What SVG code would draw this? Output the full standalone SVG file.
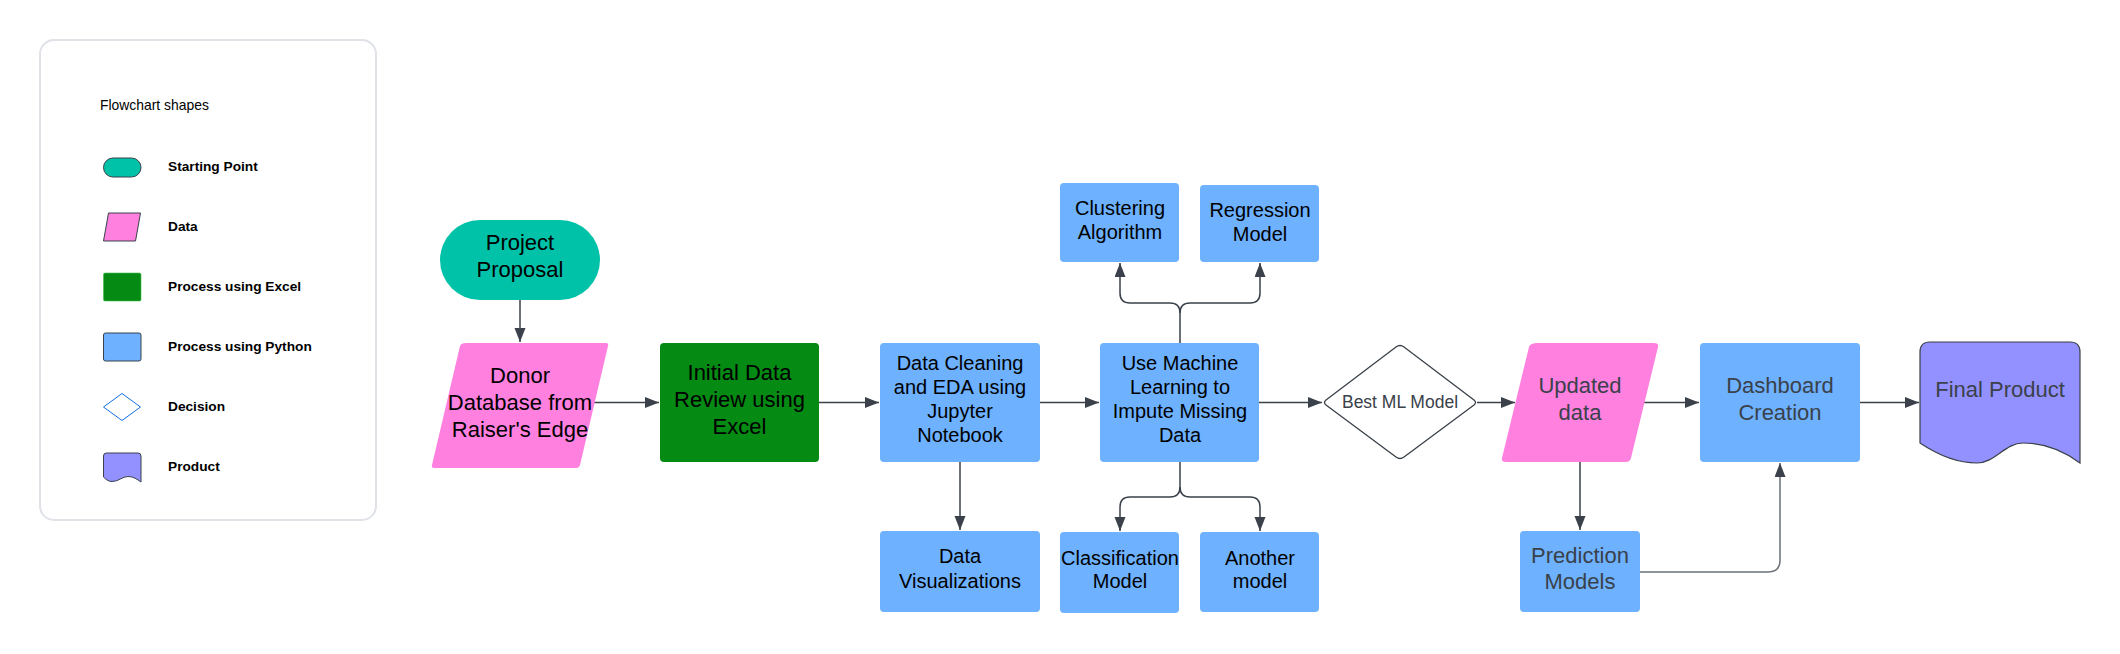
<svg xmlns="http://www.w3.org/2000/svg" width="2120" height="654" viewBox="0 0 2120 654">
<style>
text{font-family:"Liberation Sans",Arial,sans-serif;text-anchor:middle}
.t22{font-size:22px;fill:#000}
.t20{font-size:20px;fill:#000}
.g22{font-size:22px;fill:#3a414a}
.lg{font-size:13.7px;font-weight:bold;fill:#000;text-anchor:start}
.py{fill:#6db1ff}
.con{fill:none;stroke:#3a414a;stroke-width:1.5}
</style>
<defs>
<marker id="ah" markerUnits="userSpaceOnUse" markerWidth="15" markerHeight="12" refX="14" refY="5.5" orient="auto">
<path d="M0,0 L14,5.5 L0,11 z" fill="#3a414a"/>
</marker>
</defs>
<rect width="2120" height="654" fill="#fff"/>
<g id="legend">
<rect x="40" y="40" width="336" height="480" rx="14" fill="#fff" stroke="#dfe2e7" stroke-width="2"/>
<text x="100" y="110" style="font-size:13.9px;text-anchor:start" fill="#000">Flowchart shapes</text>
<rect x="103.5" y="158" width="37.5" height="19" rx="9.5" fill="#00c2a8" stroke="#3a414a" stroke-width="1"/>
<text x="168" y="170.5" class="lg">Starting Point</text>
<path d="M108.5,213 L140.5,213 L135.5,241 L103.5,241 Z" fill="#ff80df" stroke="#3a414a" stroke-width="1" stroke-linejoin="round"/>
<text x="168" y="230.5" class="lg">Data</text>
<rect x="103.5" y="273" width="37.5" height="28" rx="1.5" fill="#058a14" stroke="#3fbf4e" stroke-width="0.6"/>
<text x="168" y="290.5" class="lg">Process using Excel</text>
<rect x="103.5" y="333" width="37.5" height="28" rx="2" fill="#6db1ff" stroke="#3a414a" stroke-width="1"/>
<text x="168" y="350.5" class="lg">Process using Python</text>
<path d="M103.5,407 L122,393.5 L140.5,407 L122,420.5 Z" fill="#fff" stroke="#1071e5" stroke-width="1" stroke-linejoin="round"/>
<text x="168" y="410.5" class="lg">Decision</text>
<path d="M103.5,456 Q103.5,453 106.5,453 L138,453 Q141,453 141,456 L141,482 C137,479 133,476.5 128,476.5 C122,476.5 119,481.5 112,481.5 C108,481.5 105.5,479 103.5,477 Z" fill="#9391ff" stroke="#3a414a" stroke-width="1"/>
<text x="168" y="470.5" class="lg">Product</text>
</g>
<g id="connectors">
<path class="con" d="M520,300 V342" marker-end="url(#ah)"/>
<path class="con" d="M593,402.5 H659" marker-end="url(#ah)"/>
<path class="con" d="M819,402.5 H879" marker-end="url(#ah)"/>
<path class="con" d="M1040,402.5 H1099" marker-end="url(#ah)"/>
<path class="con" d="M960,462 V530" marker-end="url(#ah)"/>
<path class="con" d="M1180,343 V313 Q1180,303 1170,303 H1130 Q1120,303 1120,293 V263" marker-end="url(#ah)"/>
<path class="con" d="M1180,313 Q1180,303 1190,303 H1250 Q1260,303 1260,293 V263" marker-end="url(#ah)"/>
<path class="con" d="M1180,462 V487 Q1180,497 1170,497 H1130 Q1120,497 1120,507 V531" marker-end="url(#ah)"/>
<path class="con" d="M1180,487 Q1180,497 1190,497 H1250 Q1260,497 1260,507 V531" marker-end="url(#ah)"/>
<path class="con" d="M1259,402.5 H1322" marker-end="url(#ah)"/>
<path class="con" d="M1477,402.5 H1515" marker-end="url(#ah)"/>
<path class="con" d="M1643,402.5 H1699" marker-end="url(#ah)"/>
<path class="con" d="M1580,462 V530" marker-end="url(#ah)"/>
<path class="con" d="M1640,572 H1768 Q1780,572 1780,560 V463" style="stroke:#6b7079" marker-end="url(#ah)"/>
<path class="con" d="M1860,402.5 H1919" marker-end="url(#ah)"/>
</g>
<g id="project-proposal">
<rect x="440" y="220" width="160" height="80" rx="40" fill="#00c2a8"/>
<text class="t22" x="520" y="250">Project</text>
<text class="t22" x="520" y="277">Proposal</text>
</g>
<g id="donor-database">
<path d="M466,343 L606,343 Q609,343 608,346 L580,465 Q579,468 576,468 L434,468 Q431,468 432,465 L460,346 Q461,343 466,343 Z" fill="#ff80df"/>
<text class="t22" x="520" y="383">Donor</text>
<text class="t22" x="520" y="410">Database from</text>
<text class="t22" x="520" y="437">Raiser's Edge</text>
</g>
<g id="initial-review">
<rect x="660" y="343" width="159" height="119" rx="4" fill="#058a14"/>
<text class="t22" x="739.5" y="380">Initial Data</text>
<text class="t22" x="739.5" y="407">Review using</text>
<text class="t22" x="739.5" y="434">Excel</text>
</g>
<g id="data-cleaning">
<rect class="py" x="880" y="343" width="160" height="119" rx="4"/>
<text class="t20" x="960" y="370">Data Cleaning</text>
<text class="t20" x="960" y="394">and EDA using</text>
<text class="t20" x="960" y="418">Jupyter</text>
<text class="t20" x="960" y="442">Notebook</text>
</g>
<g id="data-visualizations">
<rect class="py" x="880" y="531" width="160" height="81" rx="4"/>
<text class="t20" x="960" y="563">Data</text>
<text class="t20" x="960" y="588">Visualizations</text>
</g>
<g id="ml-impute">
<rect class="py" x="1100" y="343" width="159" height="119" rx="4"/>
<text class="t20" x="1180" y="370">Use Machine</text>
<text class="t20" x="1180" y="394">Learning to</text>
<text class="t20" x="1180" y="418">Impute Missing</text>
<text class="t20" x="1180" y="442">Data</text>
</g>
<g id="clustering">
<rect class="py" x="1060" y="183" width="119" height="79" rx="4"/>
<text class="t20" x="1120" y="215">Clustering</text>
<text class="t20" x="1120" y="239">Algorithm</text>
</g>
<g id="regression">
<rect class="py" x="1200" y="185" width="119" height="77" rx="4"/>
<text class="t20" x="1260" y="217">Regression</text>
<text class="t20" x="1260" y="241">Model</text>
</g>
<g id="classification">
<rect class="py" x="1060" y="532" width="119" height="81" rx="4"/>
<text class="t20" x="1120" y="565">Classification</text>
<text class="t20" x="1120" y="588">Model</text>
</g>
<g id="another-model">
<rect class="py" x="1200" y="532" width="119" height="80" rx="4"/>
<text class="t20" x="1260" y="565">Another</text>
<text class="t20" x="1260" y="588">model</text>
</g>
<g id="best-ml-model">
<path d="M1326,400 L1396,347 Q1400,344 1404,347 L1474,400 Q1477,402.5 1474,405 L1404,457 Q1400,460 1396,457 L1326,405 Q1323,402.5 1326,400 Z" fill="#fff" stroke="#3a414a" stroke-width="1.3"/>
<text x="1400" y="408" style="font-size:17.5px" fill="#3a414a">Best ML Model</text>
</g>
<g id="updated-data">
<path d="M1538,343 L1654,343 Q1659,343 1658,347 L1631,458 Q1630,462 1626,462 L1506,462 Q1501,462 1502,458 L1529,347 Q1530,343 1538,343 Z" fill="#ff80df"/>
<text class="g22" x="1580" y="393">Updated</text>
<text class="g22" x="1580" y="420">data</text>
</g>
<g id="prediction-models">
<rect class="py" x="1520" y="531" width="120" height="81" rx="4"/>
<text class="g22" x="1580" y="563">Prediction</text>
<text class="g22" x="1580" y="589">Models</text>
</g>
<g id="dashboard">
<rect class="py" x="1700" y="343" width="160" height="119" rx="4"/>
<text class="g22" x="1780" y="393">Dashboard</text>
<text class="g22" x="1780" y="420">Creation</text>
</g>
<g id="final-product">
<path d="M1920,352 Q1920,342 1930,342 L2070,342 Q2080,342 2080,352 L2080,463 C2065,452 2045,443 2023,443 C2005,443 1995,463 1977,463 C1955,463 1935,453 1920,443 Z" fill="#9391ff" stroke="#3a414a" stroke-width="1.2"/>
<text class="g22" x="2000" y="397">Final Product</text>
</g>
</svg>
